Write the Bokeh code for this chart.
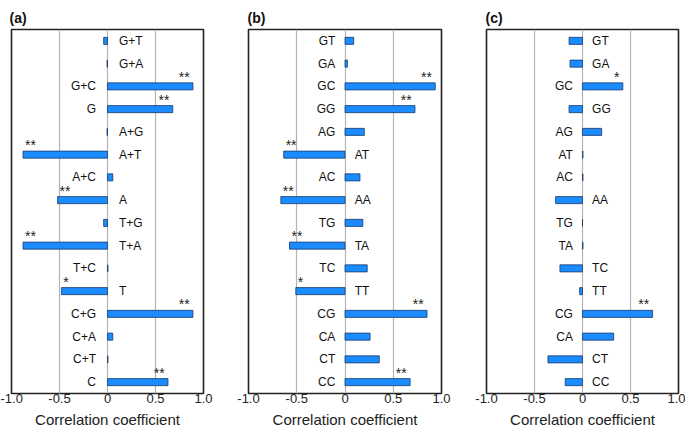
from bokeh.plotting import figure
from bokeh.layouts import row
from bokeh.models import Range1d, FixedTicker, ColumnDataSource, Title
from bokeh.core.properties import value
from bokeh.embed import file_html
from bokeh.resources import INLINE

# ---- data (top to bottom) ----
cats_a = ["G+T", "G+A", "G+C", "G", "A+G", "A+T", "A+C", "A",
          "T+G", "T+A", "T+C", "T", "C+G", "C+A", "C+T", "C"]
vals_a = [-0.04, -0.005, 0.89, 0.68, -0.005, -0.88, 0.055, -0.52,
          -0.04, -0.88, 0.005, -0.48, 0.89, 0.055, 0.005, 0.63]
sig_a = ["", "", "**", "**", "", "**", "", "**",
         "", "**", "", "*", "**", "", "", "**"]

cats_b = ["GT", "GA", "GC", "GG", "AG", "AT", "AC", "AA",
          "TG", "TA", "TC", "TT", "CG", "CA", "CT", "CC"]
vals_b = [0.09, 0.025, 0.935, 0.725, 0.2, -0.635, 0.155, -0.665,
          0.185, -0.575, 0.23, -0.51, 0.85, 0.26, 0.355, 0.675]
sig_b = ["", "", "**", "**", "", "**", "", "**",
         "", "**", "", "*", "**", "", "", "**"]

cats_c = ["GT", "GA", "GC", "GG", "AG", "AT", "AC", "AA",
          "TG", "TA", "TC", "TT", "CG", "CA", "CT", "CC"]
vals_c = [-0.14, -0.13, 0.42, -0.14, 0.2, 0.005, 0.005, -0.28,
          0.0, 0.005, -0.235, -0.03, 0.73, 0.325, -0.36, -0.18]
sig_c = ["", "", "*", "", "", "", "", "",
         "", "", "", "", "**", "", "", ""]

x_ticks = [-1.0, -0.5, 0.0, 0.5, 1.0]
x_tick_labels = {-1.0: "-1.0", -0.5: "-0.5", 0.0: "0", 0.5: "0.5", 1.0: "1.0"}
panel_names = ["(a)", "(b)", "(c)"]

FONT = "Liberation Sans"
BAR_FILL = "#1A8CFF"
BAR_LINE = "#1F3A68"


def make_panel(name, cats, vals, sig, width, left, right, title_offset, label_gap):
    n = len(cats)
    p = figure(width=width, height=430, output_backend="svg", toolbar_location=None,
               x_range=Range1d(-1.0, 1.0), y_range=Range1d(-0.5, n - 0.5),
               min_border_left=left, min_border_right=right, min_border_top=29,
               min_border_bottom=10)
    ys = [n - 1 - i for i in range(n)]
    src = ColumnDataSource(dict(y=ys, v=vals, z=[0.0] * n))
    p.hbar(y="y", left="z", right="v", height=0.31, source=src,
           fill_color=BAR_FILL, line_color=BAR_LINE, line_width=0.8)

    # category labels on opposite side of the bar
    lx, ly, lt = [], [], []
    rx, ry, rt = [], [], []
    for c, v, y in zip(cats, vals, ys):
        if v >= 0:
            lx.append(-label_gap); ly.append(y); lt.append(c)
        else:
            rx.append(label_gap); ry.append(y); rt.append(c)
    p.text(x=lx, y=ly, text=lt, text_align="right", text_baseline="middle",
           text_font=value(FONT), text_font_size="12px", text_color="#111111")
    p.text(x=rx, y=ry, text=rt, text_align="left", text_baseline="middle",
           text_font=value(FONT), text_font_size="12px", text_color="#111111")

    # significance stars
    px_, py_, pt_ = [], [], []
    nx_, ny_, nt_ = [], [], []
    for s, v, y in zip(sig, vals, ys):
        if not s:
            continue
        if v > 0:
            px_.append(v - 0.035); py_.append(y + 0.42); pt_.append(s)
        else:
            nx_.append(v + 0.02); ny_.append(y + 0.42); nt_.append(s)
    if pt_:
        p.text(x=px_, y=py_, text=pt_, text_align="right", text_baseline="alphabetic",
               text_font=value(FONT), text_font_size="14px", text_color="#222222")
    if nt_:
        p.text(x=nx_, y=ny_, text=nt_, text_align="left", text_baseline="alphabetic",
               text_font=value(FONT), text_font_size="14px", text_color="#222222")

    p.yaxis.visible = False
    p.ygrid.visible = False
    p.xgrid.ticker = FixedTicker(ticks=x_ticks[1:-1])
    p.xgrid.grid_line_color = "#B4B4B4"
    p.xgrid.grid_line_width = 1.2

    ax = p.xaxis[0]
    ax.ticker = FixedTicker(ticks=x_ticks)
    ax.major_label_overrides = x_tick_labels
    ax.major_tick_line_color = None
    ax.minor_tick_line_color = None
    ax.major_tick_out = 0
    ax.major_tick_in = 0
    ax.axis_line_color = None
    ax.major_label_standoff = 0
    ax.major_label_text_font = FONT
    ax.major_label_text_font_size = "13px"
    ax.major_label_text_color = "#222222"
    ax.axis_label = "Correlation coefficient"
    ax.axis_label_text_font = FONT
    ax.axis_label_text_font_size = "15px"
    ax.axis_label_text_font_style = "normal"
    ax.axis_label_text_color = "#222222"
    ax.axis_label_standoff = 5

    p.outline_line_color = "#222222"
    p.outline_line_width = 1.6
    p.background_fill_color = "white"
    p.border_fill_color = "white"

    t = Title(text=name, align="left", offset=title_offset, text_font=FONT,
              text_font_size="14px", text_font_style="bold", text_color="#111111",
              standoff=8)
    p.add_layout(t, "above")
    return p


pa = make_panel(panel_names[0], cats_a, vals_a, sig_a, 225, 11, 22, -2, 0.12)
pb = make_panel(panel_names[1], cats_b, vals_b, sig_b, 230, 23, 14, -1, 0.1)
pc = make_panel(panel_names[2], cats_c, vals_c, sig_c, 230, 31, 7, -1, 0.1)

p = row(pa, pb, pc)
open("out.html", "w").write(file_html(p, INLINE))
